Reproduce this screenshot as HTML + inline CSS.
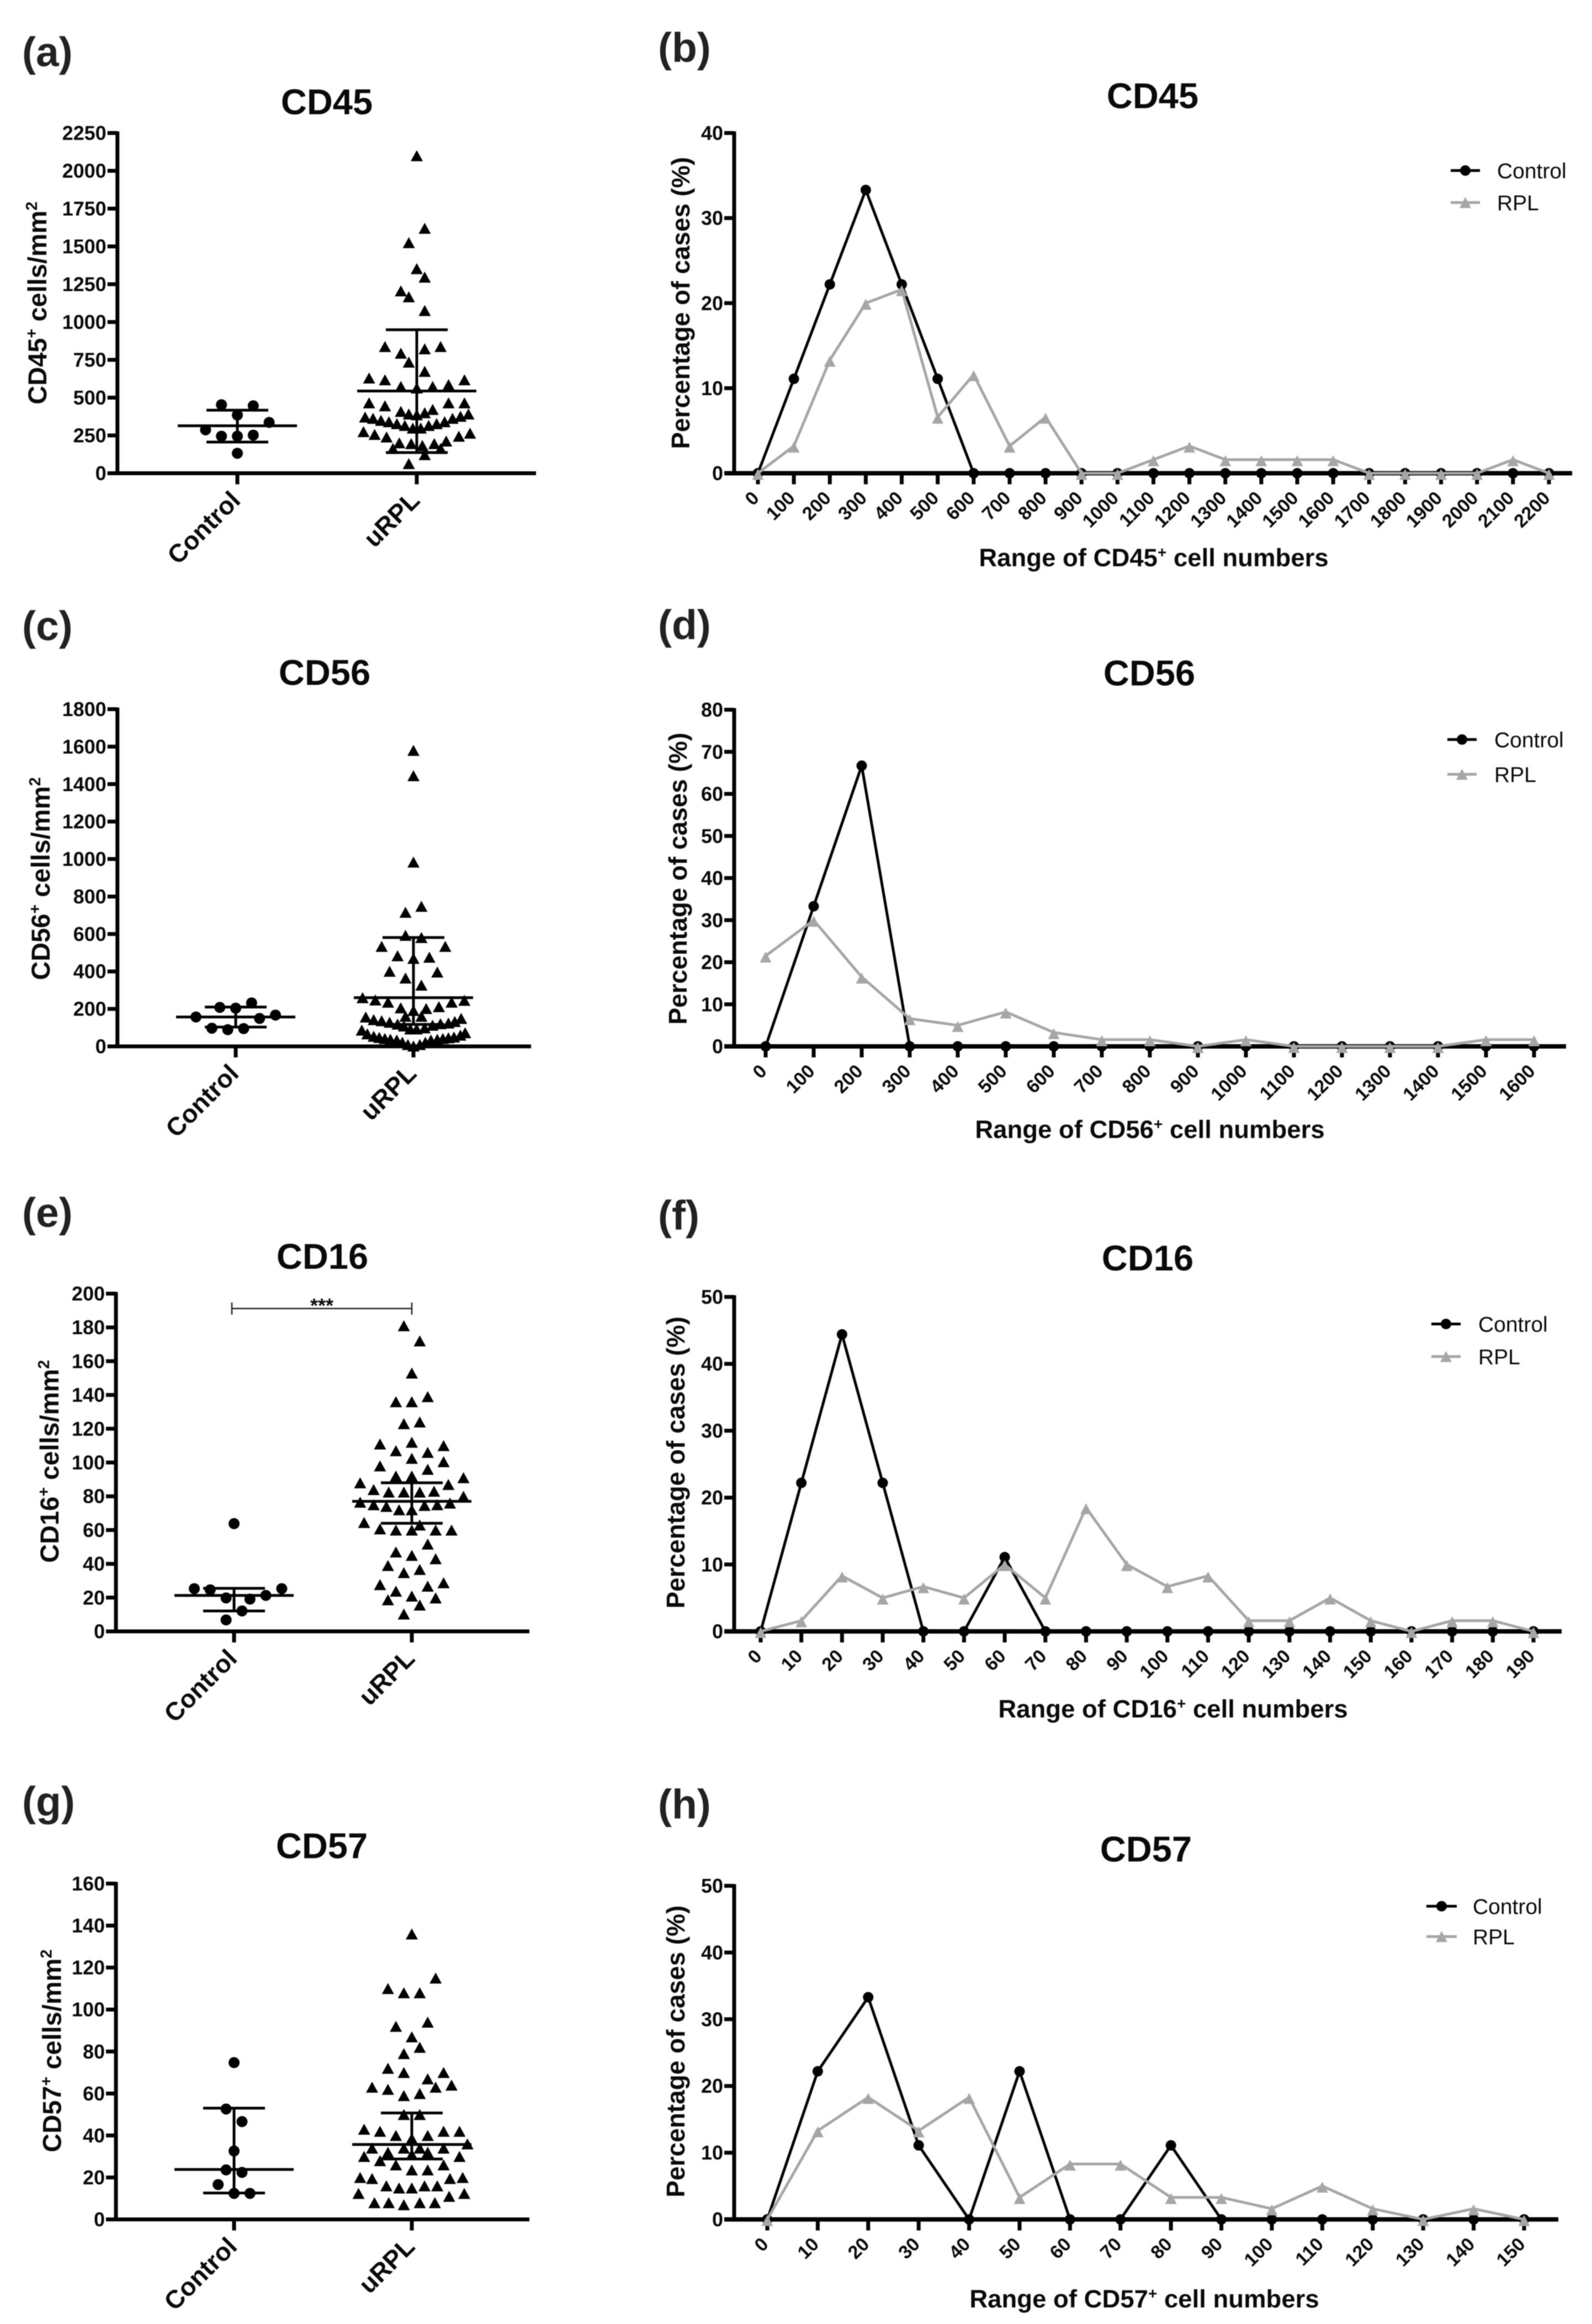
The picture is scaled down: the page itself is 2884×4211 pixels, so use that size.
<!DOCTYPE html>
<html lang="en">
<head>
<meta charset="utf-8">
<title>CD45, CD56, CD16 and CD57 cell counts in Control and uRPL</title>
<style>
html,body{margin:0;padding:0;background:#fff;}
#figure{display:block;width:2884px;height:4211px;background:#fff;filter:blur(0.7px);font-family:"Liberation Sans",Arial,sans-serif;}
text{font-family:"Liberation Sans",Arial,sans-serif;fill:#0a0a0a;}
</style>
</head>
<body>
<svg id="figure" xmlns="http://www.w3.org/2000/svg" width="2884" height="4211" viewBox="0 0 2884 4211"></svg>
<script>
// ---------- shared categories ----------
var swarmCategories = ['Control', 'uRPL'];

// ---------- panel a: CD45 counts ----------
var cd45CountTicks = [0, 250, 500, 750, 1000, 1250, 1500, 1750, 2000, 2250];
var cd45ControlValues = [453, 446, 385, 336, 287, 245, 245, 252, 132];
var cd45ControlLanes = [-2, 2, 0, 4, -4, -2, 0, 2, 0];
var cd45ControlSummary = [206, 314, 417];
var cd45UrplValues = [2100, 1620, 1525, 1353, 1297, 1206, 1167, 1076, 838, 838, 823, 794, 735, 674, 630, 618, 618, 586, 574, 574, 564, 466, 446, 466, 466, 422, 409, 392, 400, 387, 372, 363, 350, 341, 328, 316, 299, 299, 316, 328, 341, 363, 377, 392, 275, 257, 240, 164, 201, 196, 184, 196, 213, 245, 265, 164, 123, 64];
var cd45UrplLanes = [0, 1, -1, 0, 1, -2, -1, 1, -4, 3, 1, -2, -1, 1, -6, -4, 6, 4, -2, 2, 0, -6, -4, 4, 6, 2, -2, -1, 1, 0, -6.5, -5.5, -4.5, -3.5, -2.5, -1.5, -0.5, 0.5, 1.5, 2.5, 3.5, 4.5, 5.5, 6.5, -6.7, -5.3, -3.8, -3, -2.2, -0.7, 0.7, 2.2, 3.7, 5.3, 6.7, 3, 1, -1];
var cd45UrplSummary = [137, 544, 949];

// ---------- panel c: CD56 counts ----------
var cd56CountTicks = [0, 200, 400, 600, 800, 1000, 1200, 1400, 1600, 1800];
var cd56ControlValues = [232, 208, 204, 157, 167, 149, 97, 89, 95];
var cd56ControlLanes = [2, -2, 0, -5, 5, 3, -3, -1, 1];
var cd56ControlSummary = [103, 157, 210];
var cd56UrplValues = [1580, 1445, 984, 748, 716, 593, 581, 534, 534, 484, 476, 470, 401, 397, 365, 327, 260, 248, 236, 206, 192, 202, 212, 236, 246, 161, 161, 157, 143, 137, 129, 119, 109, 93, 93, 99, 113, 121, 125, 133, 149, 87, 67, 54, 48, 42, 38, 34, 22, 10, 2, 10, 22, 34, 38, 42, 46, 50, 60, 73];
var cd56UrplLanes = [0, 0, 0, 1, -1, -1, 1, -4, 4, -2, 2, 0, -3, 3, -1, 1, -6.4, -4.8, -3.2, -1.6, 0, 1.6, 3.2, 4.8, 6.4, -1, 1, -6, -5, -4, -3, -2, -1.2, -0.4, 0.4, 1.4, 2.4, 3.4, 4.4, 5.2, 6, -6.5, -5.8, -5, -4.3, -3.6, -2.9, -2.1, -1.4, -0.7, 0, 0.8, 1.5, 2.2, 3, 3.7, 4.4, 5.1, 5.9, 6.5];
var cd56UrplSummary = [117, 260, 581];

// ---------- panel e: CD16 counts ----------
var cd16CountTicks = [0, 20, 40, 60, 80, 100, 120, 140, 160, 180, 200];
var cd16ControlValues = [63.8, 25.3, 24.6, 25.3, 19.8, 19.1, 21.3, 12.1, 6.8];
var cd16ControlLanes = [0, -5, -3, 6, -1, 2, 4, 1, -1];
var cd16ControlSummary = [12.1, 21.3, 25.5];
var cd16UrplValues = [181, 172, 153, 139, 136, 136, 123, 124, 111, 110, 112, 107, 106, 102.5, 100.5, 98, 96, 92, 92, 88, 91, 87, 84, 82.5, 82.5, 82.5, 83, 80, 76.5, 75, 74, 72, 72, 74.6, 75, 76, 64.5, 60.7, 60, 60, 63, 60, 60, 51.7, 47, 45, 43, 39, 36.7, 34.8, 27.7, 28.8, 26.8, 23.8, 20.9, 18.7, 19.8, 15.6, 10.3];
var cd16UrplLanes = [-1, 1, 0, 2, -2, 0, -1, 1, -4, 4, 0, -2, 2, 0, 4, -4, 2, -2, 0, -6.5, 6.5, 4.6, -4.8, -2.9, -1, 1, 2.8, 6.5, -6.5, -4.8, -3.2, -1.6, 0, 1.6, 3.2, 4.8, -6, -4, -2, 0, 1, 3, 5, 2, -2, 0, 3, -3, 1, -1, -4, 4, 2, -2, 0, -3, 3, 1, -1];
var cd16UrplSummary = [64, 77, 88];

// ---------- panel g: CD57 counts ----------
var cd57CountTicks = [0, 20, 40, 60, 80, 100, 120, 140, 160];
var cd57ControlValues = [74.7, 52.6, 46.6, 32.6, 23.6, 22.4, 16.6, 12.4, 12.4];
var cd57ControlLanes = [0, -1, 1, 0, -1, 1, -2, 0, 2];
var cd57ControlSummary = [12.6, 23.8, 53];
var cd57UrplValues = [136, 115, 110, 108, 108, 94, 92, 87, 82, 79, 72, 70, 70, 67, 63, 62, 63, 64, 59, 60, 50, 50, 43, 42, 42, 42, 40, 40, 38.6, 36, 34, 34, 34, 32, 34, 32, 30, 30, 31, 28, 26, 26, 23.6, 23.6, 20, 19.5, 19.5, 20, 16, 15, 15, 16, 16, 12.4, 11, 12.4, 8, 8, 7, 8, 8];
var cd57UrplLanes = [0, 3, -3, -1, 1, 2, -2, 0, 1, -1, -3, 4, -1, 2, -5, -3, 3, 5, -1, 1, -1, 1, -6, -4, 4, 6, -2, 2, 0, 7, -5, -1, 4, -3, 1, 2, -6, 6, 0, -4, 4, -2, 0, 2, -6.5, -5, 4.8, 6.4, -3.2, -1.6, 0, 1.6, 3.2, -6.7, 4.7, 6.6, -4.7, -2.9, -1, 1, 2.9];
var cd57UrplSummary = [28.8, 35.7, 50.7];

// ---------- panel b: CD45 distribution ----------
var cd45RangeLabels = ['0', '100', '200', '300', '400', '500', '600', '700', '800', '900', '1000', '1100', '1200', '1300', '1400', '1500', '1600', '1700', '1800', '1900', '2000', '2100', '2200'];
var cd45PercentTicks = [0, 10, 20, 30, 40];
var cd45PercentControl = [0, 11.1, 22.2, 33.3, 22.2, 11.1, 0, 0, 0, 0, 0, 0, 0, 0, 0, 0, 0, 0, 0, 0, 0, 0, 0];
var cd45PercentRpl = [0, 3.2, 13.3, 20, 21.6, 6.6, 11.6, 3.2, 6.6, 0, 0, 1.6, 3.2, 1.6, 1.6, 1.6, 1.6, 0, 0, 0, 0, 1.6, 0];

// ---------- panel d: CD56 distribution ----------
var cd56RangeLabels = ['0', '100', '200', '300', '400', '500', '600', '700', '800', '900', '1000', '1100', '1200', '1300', '1400', '1500', '1600'];
var cd56PercentTicks = [0, 10, 20, 30, 40, 50, 60, 70, 80];
var cd56PercentControl = [0, 33.3, 66.7, 0, 0, 0, 0, 0, 0, 0, 0, 0, 0, 0, 0, 0, 0];
var cd56PercentRpl = [21.5, 30, 16.5, 6.6, 5, 8.2, 3.3, 1.6, 1.6, 0, 1.6, 0, 0, 0, 0, 1.6, 1.6];

// ---------- panel f: CD16 distribution ----------
var cd16RangeLabels = ['0', '10', '20', '30', '40', '50', '60', '70', '80', '90', '100', '110', '120', '130', '140', '150', '160', '170', '180', '190'];
var cd16PercentTicks = [0, 10, 20, 30, 40, 50];
var cd16PercentControl = [0, 22.2, 44.4, 22.2, 0, 0, 11.1, 0, 0, 0, 0, 0, 0, 0, 0, 0, 0, 0, 0, 0];
var cd16PercentRpl = [0, 1.6, 8.3, 5, 6.7, 5, 10, 5, 18.5, 10, 6.7, 8.3, 1.6, 1.6, 5, 1.6, 0, 1.6, 1.6, 0];

// ---------- panel h: CD57 distribution ----------
var cd57RangeLabels = ['0', '10', '20', '30', '40', '50', '60', '70', '80', '90', '100', '110', '120', '130', '140', '150'];
var cd57PercentTicks = [0, 10, 20, 30, 40, 50];
var cd57PercentControl = [0, 22.2, 33.3, 11.1, 0, 22.2, 0, 0, 11.1, 0, 0, 0, 0, 0, 0, 0];
var cd57PercentRpl = [0, 13.3, 18.3, 13.3, 18.3, 3.3, 8.3, 8.3, 3.3, 3.3, 1.6, 5, 1.6, 0, 1.6, 0];

var NS = 'http://www.w3.org/2000/svg';
var figure = document.getElementById('figure');

function make(parent, tag, attrs) {
  var node = document.createElementNS(NS, tag);
  for (var key in attrs) { node.setAttribute(key, attrs[key]); }
  parent.appendChild(node);
  return node;
}

// parts alternates normal text and superscript text
function richText(node, parts, size) {
  var supSize = Math.round(size * 0.62);
  var rise = Math.round(size * 0.36);
  parts.forEach(function (part, i) {
    var span = document.createElementNS(NS, 'tspan');
    span.textContent = part;
    if (i % 2 === 1) {
      span.setAttribute('font-size', supSize);
      span.setAttribute('dy', -rise);
    } else if (i > 0) {
      span.setAttribute('dy', rise);
    }
    node.appendChild(span);
  });
}

function line(parent, x1, y1, x2, y2, width, color) {
  return make(parent, 'line', { x1: x1, y1: y1, x2: x2, y2: y2, stroke: color || '#000', 'stroke-width': width });
}

function triangle(parent, cx, cy, w, h, color) {
  var pts = (cx - w / 2) + ',' + (cy + h / 2) + ' ' + cx + ',' + (cy - h / 2) + ' ' + (cx + w / 2) + ',' + (cy + h / 2);
  return make(parent, 'polygon', { points: pts, fill: color });
}

function drawHeading(group, cfg) {
  var label = make(group, 'text', { x: cfg.labelX, y: cfg.labelY, 'font-size': 75, 'font-weight': 'bold', style: 'fill:#222' });
  label.textContent = cfg.label;
  
  
  var title = make(group, 'text', { x: cfg.titleX, y: cfg.titleY, 'font-size': 65, 'font-weight': 'bold', 'text-anchor': 'middle' });
  title.textContent = cfg.title;
  
  
}

function drawYAxis(group, cfg, ticks, scaleY) {
  var axis = line(group, cfg.axisX, cfg.top - 3, cfg.axisX, cfg.y0, 7);
  
  
  ticks.forEach(function (t) {
    var y = scaleY(t);
    var mark = line(group, cfg.axisX - 18, y, cfg.axisX, y, 7);
    
    
    var txt = make(group, 'text', { x: cfg.axisX - 20, y: y + 12.5, 'font-size': 36, 'font-weight': 'bold', 'text-anchor': 'end' });
    txt.textContent = String(t);
    
    
  });
  var ty = make(group, 'text', { x: cfg.yTitleX, y: cfg.yTitleY, 'font-size': cfg.yTitleSize, 'font-weight': 'bold', 'text-anchor': 'middle', transform: 'rotate(-90 ' + cfg.yTitleX + ' ' + cfg.yTitleY + ')' });
  richText(ty, cfg.yTitle, cfg.yTitleSize);
  
  
}

function drawSummary(group, cx, scaleY, summary) {
  var hi = scaleY(summary[2]), mid = scaleY(summary[1]), lo = scaleY(summary[0]);
  var whisker = line(group, cx, hi, cx, lo, 5);
  
  
  var capHigh = line(group, cx - 56, hi, cx + 56, hi, 5);
  
  
  var capLow = line(group, cx - 56, lo, cx + 56, lo, 5);
  
  
  var median = line(group, cx - 108, mid, cx + 108, mid, 5);
  
  
}

function drawSwarm(cfg) {
  var group = make(figure, 'g', {});
  
  
  var maxV = cfg.ticks[cfg.ticks.length - 1];
  var scaleY = function (v) { return cfg.y0 - v / maxV * (cfg.y0 - cfg.top); };
  var laneX = function (cx, lane) { return cx + lane * 14.4; };
  cfg.yTitleSize = 47;
  drawHeading(group, cfg);
  drawYAxis(group, cfg, cfg.ticks, scaleY);
  var xAxis = line(group, cfg.axisX - 18, cfg.y0, cfg.right, cfg.y0, 7);
  
  
  swarmCategories.forEach(function (cat, i) {
    var cx = cfg.cats[i];
    var tick = line(group, cx, cfg.y0, cx, cfg.y0 + 20, 7);
    
    
    var tx = cx + 8, ty = cfg.y0 + 52;
    var txt = make(group, 'text', { x: tx, y: ty, 'font-size': 46, 'font-weight': 'bold', 'text-anchor': 'end', transform: 'rotate(-45 ' + tx + ' ' + ty + ')' });
    txt.textContent = cat;
    
    
  });
  cfg.controlValues.forEach(function (v, i) {
    var dot = make(group, 'circle', { cx: laneX(cfg.cats[0], cfg.controlLanes[i]), cy: scaleY(v), r: 10, fill: '#000' });
    
    
  });
  cfg.urplValues.forEach(function (v, i) {
    var tri = triangle(group, laneX(cfg.cats[1], cfg.urplLanes[i]), scaleY(v), 22, 20, '#000');
    
    
  });
  drawSummary(group, cfg.cats[0], scaleY, cfg.controlSummary);
  drawSummary(group, cfg.cats[1], scaleY, cfg.urplSummary);
  if (cfg.bracket) {
    var b = cfg.bracket;
    var bar = line(group, b.x1, b.y, b.x2, b.y, 2.5, '#222');
    
    
    var endL = line(group, b.x1, b.y - 11, b.x1, b.y + 11, 2.5, '#222');
    
    
    var endR = line(group, b.x2, b.y - 11, b.x2, b.y + 11, 2.5, '#222');
    
    
    var star = make(group, 'text', { x: b.textX, y: b.textY, 'font-size': 36, 'font-weight': 'bold', 'text-anchor': 'middle' });
    star.textContent = '***';
    
    
  }
}

function drawDistribution(cfg) {
  var group = make(figure, 'g', {});
  
  
  var maxV = cfg.ticks[cfg.ticks.length - 1];
  var n = cfg.rangeLabels.length;
  var scaleY = function (v) { return cfg.y0 - v / maxV * (cfg.y0 - cfg.top); };
  var scaleX = function (i) { return cfg.x0 + i * (cfg.x1 - cfg.x0) / (n - 1); };
  cfg.yTitleSize = 46;
  drawHeading(group, cfg);
  drawYAxis(group, cfg, cfg.ticks, scaleY);
  var xAxis = line(group, cfg.axisX - 18, cfg.y0, cfg.right, cfg.y0, 8);
  
  
  cfg.rangeLabels.forEach(function (lab, i) {
    var cx = scaleX(i);
    var tick = line(group, cx, cfg.y0, cx, cfg.y0 + 20, 7);
    
    
    var tx = cx + 4, ty = cfg.y0 + 47;
    var txt = make(group, 'text', { x: tx, y: ty, 'font-size': 34, 'font-weight': 'bold', 'text-anchor': 'end', transform: 'rotate(-45 ' + tx + ' ' + ty + ')' });
    txt.textContent = lab;
    
    
  });
  var xt = make(group, 'text', { x: cfg.xTitleX, y: cfg.xTitleY, 'font-size': 45.5, 'font-weight': 'bold', 'text-anchor': 'middle' });
  richText(xt, cfg.xTitle, 45.5);
  
  

  var controlPts = cfg.control.map(function (v, i) { return scaleX(i) + ',' + scaleY(v); }).join(' ');
  var controlLine = make(group, 'polyline', { points: controlPts, fill: 'none', stroke: '#000', 'stroke-width': 5 });
  
  
  cfg.control.forEach(function (v, i) {
    var dot = make(group, 'circle', { cx: scaleX(i), cy: scaleY(v), r: 9.5, fill: '#000' });
    
    
  });
  var rplPts = cfg.rpl.map(function (v, i) { return scaleX(i) + ',' + scaleY(v); }).join(' ');
  var rplLine = make(group, 'polyline', { points: rplPts, fill: 'none', stroke: '#a6a6a6', 'stroke-width': 5 });
  
  
  cfg.rpl.forEach(function (v, i) {
    var tri = triangle(group, scaleX(i), scaleY(v) + 2, 21, 20, '#a6a6a6');
    
    
  });

  var legend = make(group, 'g', {});
  
  
  var mid = (cfg.legX1 + cfg.legX2) / 2;
  var l1 = line(legend, cfg.legX1, cfg.legY1, cfg.legX2, cfg.legY1, 5);
  
  
  var m1 = make(legend, 'circle', { cx: mid, cy: cfg.legY1, r: 9.5, fill: '#000' });
  
  
  var t1 = make(legend, 'text', { x: cfg.legTextX, y: cfg.legY1 + 14, 'font-size': 39 });
  t1.textContent = 'Control';
  
  
  var l2 = line(legend, cfg.legX1, cfg.legY2, cfg.legX2, cfg.legY2, 5, '#a6a6a6');
  
  
  var m2 = triangle(legend, mid, cfg.legY2, 21, 20, '#a6a6a6');
  
  
  var t2 = make(legend, 'text', { x: cfg.legTextX, y: cfg.legY2 + 14, 'font-size': 39 });
  t2.textContent = 'RPL';
  
  
}

drawSwarm({ name: 'panel-a-cd45-counts', label: '(a)', labelX: 40, labelY: 120, title: 'CD45', titleX: 592, titleY: 207,
  axisX: 212.7, y0: 857.5, top: 241, right: 971, cats: [430, 755], ticks: cd45CountTicks,
  yTitle: ['CD45', '+', ' cells/mm', '2'], yTitleX: 84, yTitleY: 549,
  controlValues: cd45ControlValues, controlLanes: cd45ControlLanes, controlSummary: cd45ControlSummary,
  urplValues: cd45UrplValues, urplLanes: cd45UrplLanes, urplSummary: cd45UrplSummary });

drawSwarm({ name: 'panel-c-cd56-counts', label: '(c)', labelX: 40, labelY: 1160, title: 'CD56', titleX: 588, titleY: 1241,
  axisX: 212.7, y0: 1896, top: 1285, right: 962, cats: [427, 749], ticks: cd56CountTicks,
  yTitle: ['CD56', '+', ' cells/mm', '2'], yTitleX: 90, yTitleY: 1592,
  controlValues: cd56ControlValues, controlLanes: cd56ControlLanes, controlSummary: cd56ControlSummary,
  urplValues: cd56UrplValues, urplLanes: cd56UrplLanes, urplSummary: cd56UrplSummary });

drawSwarm({ name: 'panel-e-cd16-counts', label: '(e)', labelX: 40, labelY: 2223, title: 'CD16', titleX: 584, titleY: 2299,
  axisX: 210, y0: 2956, top: 2344, right: 959, cats: [424, 746], ticks: cd16CountTicks,
  yTitle: ['CD16', '+', ' cells/mm', '2'], yTitleX: 106, yTitleY: 2648,
  controlValues: cd16ControlValues, controlLanes: cd16ControlLanes, controlSummary: cd16ControlSummary,
  urplValues: cd16UrplValues, urplLanes: cd16UrplLanes, urplSummary: cd16UrplSummary,
  bracket: { x1: 420, x2: 746, y: 2371, textX: 583, textY: 2378 } });

drawSwarm({ name: 'panel-g-cd57-counts', label: '(g)', labelX: 40, labelY: 3290, title: 'CD57', titleX: 583, titleY: 3367,
  axisX: 210, y0: 4021.5, top: 3413, right: 959, cats: [424, 746], ticks: cd57CountTicks,
  yTitle: ['CD57', '+', ' cells/mm', '2'], yTitleX: 110.5, yTitleY: 3716,
  controlValues: cd57ControlValues, controlLanes: cd57ControlLanes, controlSummary: cd57ControlSummary,
  urplValues: cd57UrplValues, urplLanes: cd57UrplLanes, urplSummary: cd57UrplSummary });

drawDistribution({ name: 'panel-b-cd45-distribution', label: '(b)', labelX: 1192, labelY: 112, title: 'CD45', titleX: 2088, titleY: 196,
  axisX: 1330, y0: 857.5, top: 241, right: 2848, x0: 1373, x1: 2806, ticks: cd45PercentTicks, rangeLabels: cd45RangeLabels,
  yTitle: ['Percentage of cases (%)'], yTitleX: 1249, yTitleY: 549,
  xTitle: ['Range of CD45', '+', ' cell numbers'], xTitleX: 2090, xTitleY: 1026,
  control: cd45PercentControl, rpl: cd45PercentRpl,
  legX1: 2628, legX2: 2681, legY1: 309, legY2: 367, legTextX: 2712 });

drawDistribution({ name: 'panel-d-cd56-distribution', label: '(d)', labelX: 1192, labelY: 1158, title: 'CD56', titleX: 2082, titleY: 1242,
  axisX: 1330, y0: 1896, top: 1286, right: 2837, x0: 1387, x1: 2779, ticks: cd56PercentTicks, rangeLabels: cd56RangeLabels,
  yTitle: ['Percentage of cases (%)'], yTitleX: 1244, yTitleY: 1592,
  xTitle: ['Range of CD56', '+', ' cell numbers'], xTitleX: 2083, xTitleY: 2062,
  control: cd56PercentControl, rpl: cd56PercentRpl,
  legX1: 2622, legX2: 2675, legY1: 1340, legY2: 1403, legTextX: 2707 });

drawDistribution({ name: 'panel-f-cd16-distribution', label: '(f)', labelX: 1192, labelY: 2228, title: 'CD16', titleX: 2079, titleY: 2302,
  axisX: 1330, y0: 2956, top: 2350, right: 2829, x0: 1378, x1: 2778, ticks: cd16PercentTicks, rangeLabels: cd16RangeLabels,
  yTitle: ['Percentage of cases (%)'], yTitleX: 1240, yTitleY: 2650,
  xTitle: ['Range of CD16', '+', ' cell numbers'], xTitleX: 2125, xTitleY: 3112,
  control: cd16PercentControl, rpl: cd16PercentRpl,
  legX1: 2593, legX2: 2646, legY1: 2399, legY2: 2458, legTextX: 2678 });

drawDistribution({ name: 'panel-h-cd57-distribution', label: '(h)', labelX: 1192, labelY: 3295, title: 'CD57', titleX: 2076, titleY: 3373,
  axisX: 1330, y0: 4021.5, top: 3417, right: 2823, x0: 1390, x1: 2761, ticks: cd57PercentTicks, rangeLabels: cd57RangeLabels,
  yTitle: ['Percentage of cases (%)'], yTitleX: 1240, yTitleY: 3717,
  xTitle: ['Range of CD57', '+', ' cell numbers'], xTitleX: 2073, xTitleY: 4181,
  control: cd57PercentControl, rpl: cd57PercentRpl,
  legX1: 2584, legX2: 2639, legY1: 3454, legY2: 3509, legTextX: 2668 });
</script>
</body>
</html>
